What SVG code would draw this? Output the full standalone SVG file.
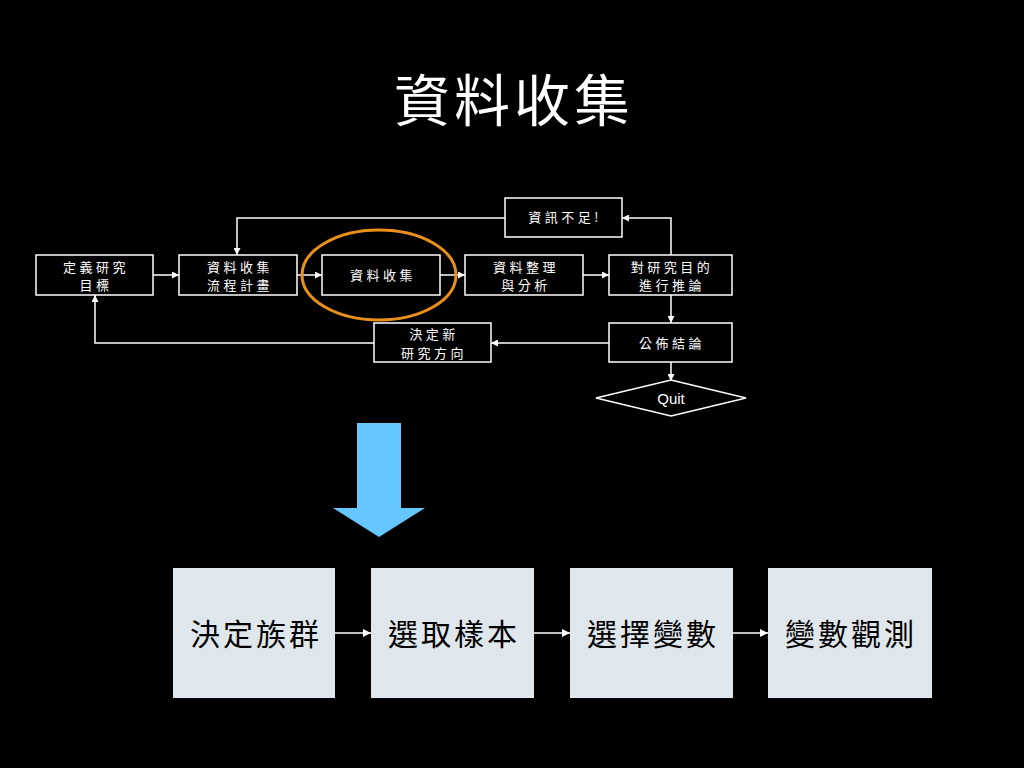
<svg xmlns="http://www.w3.org/2000/svg" width="1024" height="768" viewBox="0 0 1024 768">
<defs>
<style>
.bx{fill:#000;stroke:#fff;stroke-width:1.5}
.t{fill:#fff;font-family:"Noto Sans CJK TC","Noto Sans CJK SC",sans-serif;font-size:13px;letter-spacing:3.5px;text-anchor:middle}
.ln{fill:none;stroke:#fff;stroke-width:1.5}
.bb{fill:#DFE6EC}
.bt{fill:#000;font-family:"Noto Sans CJK TC","Noto Sans CJK SC",sans-serif;font-size:30px;letter-spacing:3px;text-anchor:middle}
</style>
<marker id="ah" viewBox="0 0 10 10" refX="10" refY="5" markerWidth="7" markerHeight="7" markerUnits="userSpaceOnUse" orient="auto">
<path d="M0,0 L10,5 L0,10 z" fill="#fff"/>
</marker>
<marker id="ah2" viewBox="0 0 10 10" refX="10" refY="5" markerWidth="8" markerHeight="8" markerUnits="userSpaceOnUse" orient="auto">
<path d="M0,0 L10,5 L0,10 z" fill="#fff"/>
</marker>
</defs>
<rect width="1024" height="768" fill="#000"/>
<text x="514" y="121" fill="#fff" font-family="Noto Sans CJK TC,Noto Sans CJK SC,sans-serif" font-size="56" letter-spacing="4" text-anchor="middle">資料收集</text>

<g id="connectors">
<line class="ln" x1="153" y1="275" x2="179" y2="275" marker-end="url(#ah)"/>
<line class="ln" x1="297" y1="275" x2="322" y2="275" marker-end="url(#ah)"/>
<line class="ln" x1="440" y1="275" x2="465" y2="275" marker-end="url(#ah)"/>
<line class="ln" x1="583" y1="275" x2="609" y2="275" marker-end="url(#ah)"/>
<polyline class="ln" points="671,255 671,218 622,218" marker-end="url(#ah)"/>
<polyline class="ln" points="505,218 237,218 237,255" marker-end="url(#ah)"/>
<line class="ln" x1="671" y1="295" x2="671" y2="323" marker-end="url(#ah)"/>
<line class="ln" x1="609" y1="343" x2="491" y2="343" marker-end="url(#ah)"/>
<polyline class="ln" points="374,343 95,343 95,295" marker-end="url(#ah)"/>
<line class="ln" x1="671" y1="362" x2="671" y2="381" marker-end="url(#ah)"/>
<line class="ln" x1="335" y1="633" x2="371" y2="633" marker-end="url(#ah2)"/>
<line class="ln" x1="534" y1="633" x2="570" y2="633" marker-end="url(#ah2)"/>
<line class="ln" x1="733" y1="633" x2="768" y2="633" marker-end="url(#ah2)"/>
</g>

<g id="n1"><rect class="bx" x="36" y="255" width="117" height="40"/><text class="t" x="96" y="272">定義研究</text><text class="t" x="96" y="290">目標</text></g>
<g id="n2"><rect class="bx" x="179" y="255" width="118" height="40"/><text class="t" x="240" y="272">資料收集</text><text class="t" x="240" y="290">流程計畫</text></g>
<g id="n3"><rect class="bx" x="322" y="255" width="118" height="40"/><text class="t" x="383" y="280">資料收集</text></g>
<g id="n4"><rect class="bx" x="465" y="255" width="118" height="40"/><text class="t" x="526" y="272">資料整理</text><text class="t" x="526" y="290">與分析</text></g>
<g id="n5"><rect class="bx" x="609" y="255" width="123" height="40"/><text class="t" x="672" y="272">對研究目的</text><text class="t" x="672" y="290">進行推論</text></g>
<g id="n6"><rect class="bx" x="505" y="198" width="117" height="39"/><text class="t" x="565" y="222">資訊不足!</text></g>
<g id="n7"><rect class="bx" x="374" y="323" width="117" height="39"/><text class="t" x="434" y="339">決定新</text><text class="t" x="434" y="358">研究方向</text></g>
<g id="n8"><rect class="bx" x="609" y="323" width="123" height="39"/><text class="t" x="672" y="348">公佈結論</text></g>
<g id="n9"><polygon class="bx" points="596,398 671,380 746,398 671,416"/><text x="671" y="404" fill="#fff" font-family="Liberation Sans,Arial,sans-serif" font-size="15" text-anchor="middle">Quit</text></g>

<g id="highlight"><ellipse cx="379" cy="275" rx="77" ry="45" fill="none" stroke="#E8901A" stroke-width="3"/></g>

<g id="bigarrow"><polygon points="357,423 401,423 401,508 425,508 379,537 333,508 357,508" fill="#66C6FF"/></g>

<g id="b1"><rect class="bb" x="173" y="568" width="162" height="130"/><text class="bt" x="256" y="645">決定族群</text></g>
<g id="b2"><rect class="bb" x="371" y="568" width="163" height="130"/><text class="bt" x="454" y="645">選取樣本</text></g>
<g id="b3"><rect class="bb" x="570" y="568" width="163" height="130"/><text class="bt" x="653" y="645">選擇變數</text></g>
<g id="b4"><rect class="bb" x="768" y="568" width="164" height="130"/><text class="bt" x="851" y="645">變數觀測</text></g>
</svg>
